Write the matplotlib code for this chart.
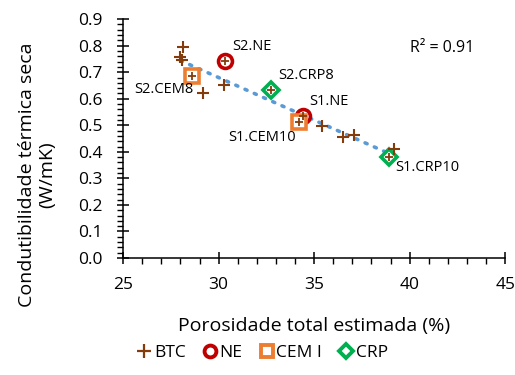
import numpy as np
import matplotlib
matplotlib.use("Agg")
import matplotlib.pyplot as plt
from matplotlib.lines import Line2D

plt.rcParams['font.family'] = ['Open Sans', 'DejaVu Sans']

# BTC points
btc_x = [28.14, 28.0, 28.1, 29.2, 30.3, 35.4, 36.5, 37.1, 39.2]
btc_y = [0.794, 0.757, 0.745, 0.62, 0.651, 0.497, 0.456, 0.463, 0.41]

# Samples
ne_x = [30.34, 34.4]
ne_y = [0.741, 0.535]
ne_lab = ["S2.NE", "S1.NE"]
cem_x = [28.6, 34.2]
cem_y = [0.685, 0.512]
cem_lab = ["S2.CEM8", "S1.CEM10"]
crp_x = [32.75, 38.9]
crp_y = [0.632, 0.38]
crp_lab = ["S2.CRP8", "S1.CRP10"]

r2_text = "R² = 0.91"

brown = '#843C0C'
red = '#C00000'
orange = '#ED7D31'
green = '#00B050'
blue = '#5B9BD5'

fig = plt.figure(figsize=(5.15, 3.75), dpi=100)
ax = fig.add_axes([0.239, 0.312, 0.742, 0.637])

# trendline from all points
allx = np.array(btc_x + ne_x + cem_x + crp_x)
ally = np.array(btc_y + ne_y + cem_y + crp_y)
b, a = np.polyfit(allx, ally, 1)
tx = np.array([allx.min(), allx.max()])
ax.plot(tx, a + b * tx, linestyle=(0, (0.6, 2.2)), color=blue, lw=2.6,
        dash_capstyle='round', zorder=2)

ax.plot(btc_x, btc_y, linestyle='none', marker='+', ms=9, mew=1.5, color=brown, zorder=5)
ax.plot(ne_x, ne_y, linestyle='none', marker='o', ms=10, mew=2.6, mec=red, mfc='white', zorder=3)
ax.plot(cem_x, cem_y, linestyle='none', marker='s', ms=10, mew=2.6, mec=orange, mfc='white', zorder=3)
ax.plot(crp_x, crp_y, linestyle='none', marker='D', ms=8.5, mew=2.6, mec=green, mfc='white', zorder=3)
# small inner crosses
for xs, ys in [(ne_x, ne_y), (cem_x, cem_y), (crp_x, crp_y)]:
    ax.plot(xs, ys, linestyle='none', marker='+', ms=5.5, mew=1.3, color=brown, zorder=4)

fs = 10.5
# labels
ax.annotate(ne_lab[0], (ne_x[0], ne_y[0]), xytext=(5, 5), textcoords='offset points', fontsize=fs, ha='left', va='bottom')
ax.annotate(ne_lab[1], (ne_x[1], ne_y[1]), xytext=(5, 5), textcoords='offset points', fontsize=fs, ha='left', va='bottom')
ax.annotate(cem_lab[0], (cem_x[0], cem_y[0]), xytext=(1, -4), textcoords='offset points', fontsize=fs, ha='right', va='top')
ax.annotate(cem_lab[1], (cem_x[1], cem_y[1]), xytext=(-2, -6), textcoords='offset points', fontsize=fs, ha='right', va='top')
ax.annotate(crp_lab[0], (crp_x[0], crp_y[0]), xytext=(5, 5), textcoords='offset points', fontsize=fs, ha='left', va='bottom')
ax.annotate(crp_lab[1], (crp_x[1], crp_y[1]), xytext=(5, -2), textcoords='offset points', fontsize=fs, ha='left', va='top')

ax.text(0.75, 0.88, r2_text, transform=ax.transAxes, fontsize=11.5, ha='left', va='center')

ax.set_xlim(25, 45)
ax.set_ylim(0, 0.9)
ax.set_xticks(np.arange(25, 46, 5))
ax.set_yticks(np.arange(0, 0.91, 0.1))
ax.set_yticklabels([f"{v:.1f}" for v in np.arange(0, 0.91, 0.1)])
ax.set_xticks(np.arange(25, 45.1, 1), minor=True)
ax.set_yticks(np.arange(0, 0.901, 0.02), minor=True)
ax.tick_params(axis='both', which='major', direction='inout', length=9, width=1.1, labelsize=12.5)
ax.tick_params(axis='y', which='major', pad=10)
ax.tick_params(axis='x', which='major', pad=9)
ax.tick_params(axis='both', which='minor', direction='out', length=4, width=1.0)
for s in ['top', 'right']:
    ax.spines[s].set_visible(False)
for s in ['left', 'bottom']:
    ax.spines[s].set_linewidth(1.1)

ax.set_xlabel("Porosidade total estimada (%)", fontsize=14, va='center')
ax.xaxis.set_label_coords(0.5, -0.285)
ax.set_ylabel("Condutibilidade térmica seca\n(W/mK)", fontsize=14, linespacing=1.1, va='center')
ax.yaxis.set_label_coords(-0.225, 0.35)

handles = [
    Line2D([], [], linestyle='none', marker='+', ms=10, mew=1.6, color=brown),
    Line2D([], [], linestyle='none', marker='o', ms=8.5, mew=2.8, mec=red, mfc='white'),
    Line2D([], [], linestyle='none', marker='s', ms=8.5, mew=2.8, mec=orange, mfc='white'),
    Line2D([], [], linestyle='none', marker='D', ms=7.5, mew=2.8, mec=green, mfc='white'),
]
fig.legend(handles, ["BTC", "NE", "CEM I", "CRP"], loc='center', bbox_to_anchor=(0.51, 0.06),
           ncol=4, frameon=False, fontsize=12.5, handlelength=0.8, handletextpad=0.15,
           columnspacing=1.0)

fig.savefig("out.png", dpi=100)
